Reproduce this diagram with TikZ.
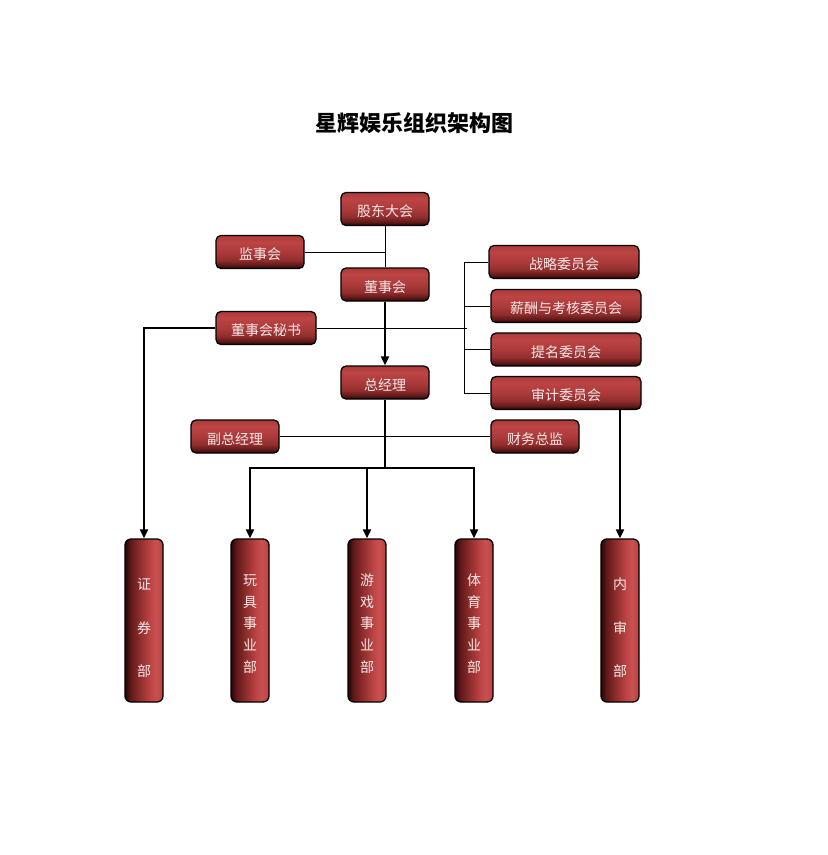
\documentclass[tikz,border=0pt]{standalone}
\usepackage{fontspec}
\newfontfamily\cjk{Noto Sans CJK SC}
\usetikzlibrary{arrows.meta,shadings}
\definecolor{bA}{RGB}{40,5,5}
\definecolor{bB}{RGB}{95,24,24}
\definecolor{bC}{RGB}{145,46,46}
\definecolor{bD}{RGB}{172,58,58}
\definecolor{bE}{RGB}{188,68,68}
\definecolor{bF}{RGB}{200,80,80}
\definecolor{txt}{RGB}{246,232,232}
\pgfdeclareverticalshading{hboxshade}{100bp}{color(0bp)=(bA); color(25bp)=(bA); color(30bp)=(bB); color(38bp)=(bC); color(50bp)=(bD); color(65bp)=(bE); color(75bp)=(bD); color(100bp)=(bD)}
\pgfdeclarehorizontalshading{vboxshade}{100bp}{color(0bp)=(bA); color(25bp)=(bA); color(32bp)=(bB); color(45bp)=(bC); color(58bp)=(bE); color(66bp)=(bF); color(73bp)=(bE); color(75bp)=(bC); color(100bp)=(bC)}
\newcommand\vtxt[1]{\raisebox{-4pt}[\height][\depth]{\begin{tabular}{@{}c@{}}#1\end{tabular}}}
\tikzset{
  hnode/.style={draw=black, line width=1.3pt, rounded corners=5pt, shading=hboxshade,
    text=txt, font=\cjk\fontsize{14}{16}\selectfont, inner sep=0pt,
    text height=15pt, text depth=0pt,
    minimum height=33pt, minimum width=88pt},
  vnode/.style={draw=black, line width=1.3pt, rounded corners=6pt, shading=vboxshade,
    text=txt, inner sep=0pt,
    minimum height=163pt, minimum width=38pt},
  thinline/.style={line width=0.8pt, draw=black},
  thickline/.style={line width=2pt, draw=black},
  arrowline/.style={thickline, -{Triangle[width=8pt,length=9pt]}}
}
\begin{document}
\begin{tikzpicture}[x=1pt,y=-1pt]
\fill[white] (0,0) rectangle (828,855);
\useasboundingbox (0,0) rectangle (828,855);
\node (title) at (414,123) {\cjk\bfseries\fontsize{22}{24}\selectfont 星辉娱乐组织架构图};
% top chain
\node[hnode] (gd) at (385,209) {股东大会};
\node[hnode] (js) at (260,252) {监事会};
\node[hnode] (ds) at (385,284.5) {董事会};
\node[hnode, minimum width=100pt] (ms) at (266,328) {董事会秘书};
\node[hnode] (zjl) at (385,382.5) {总经理};
\node[hnode] (fz) at (235,436.5) {副总经理};
\node[hnode] (cw) at (535,436.5) {财务总监};
% committees
\node[hnode, minimum width=150pt] (zl) at (564,262) {战略委员会};
\node[hnode, minimum width=150pt] (xc) at (566,306) {薪酬与考核委员会};
\node[hnode, minimum width=150pt] (tm) at (566,349.5) {提名委员会};
\node[hnode, minimum width=150pt] (sj) at (566,393) {审计委员会};
% departments
\node[vnode, font=\cjk\fontsize{14}{43.5}\selectfont] (zq) at (144,620.5) {\vtxt{证\\券\\部}};
\node[vnode, font=\cjk\fontsize{14}{21.75}\selectfont] (wj) at (250,620.5) {\vtxt{玩\\具\\事\\业\\部}};
\node[vnode, font=\cjk\fontsize{14}{21.75}\selectfont] (yx) at (367,620.5) {\vtxt{游\\戏\\事\\业\\部}};
\node[vnode, font=\cjk\fontsize{14}{21.75}\selectfont] (ty) at (474,620.5) {\vtxt{体\\育\\事\\业\\部}};
\node[vnode, font=\cjk\fontsize{14}{43.5}\selectfont] (ns) at (620,620.5) {\vtxt{内\\审\\部}};
% helper coordinates
\coordinate (bx) at (464,0);
\coordinate (sx) at (467,328);
\coordinate (jn) at (385,468);
% connectors
\draw[thinline] (gd.south) -- (ds.north);
\draw[thinline] (js.east) -- (js.east -| gd.south);
\draw[arrowline] (ds.south) -- (zjl.north);
\draw[thinline] (ms.east) -- (sx);
\draw[arrowline] (ms.west) -| (zq.north);
\draw[thinline] (zl.west) -- (zl.west -| bx) -- (sj.west -| bx) -- (sj.west);
\draw[thinline] (xc.west) -- (xc.west -| bx);
\draw[thinline] (tm.west) -- (tm.west -| bx);
\draw[thickline] (zjl.south) -- (jn);
\draw[thinline] (fz.east) -- (cw.west);
\draw[arrowline] (jn) -| (wj.north);
\draw[arrowline] (jn) -| (ty.north);
\draw[arrowline] (yx.north |- jn) -- (yx.north);
\draw[arrowline] (ns.north |- sj.south) -- (ns.north);
\end{tikzpicture}
\end{document}
